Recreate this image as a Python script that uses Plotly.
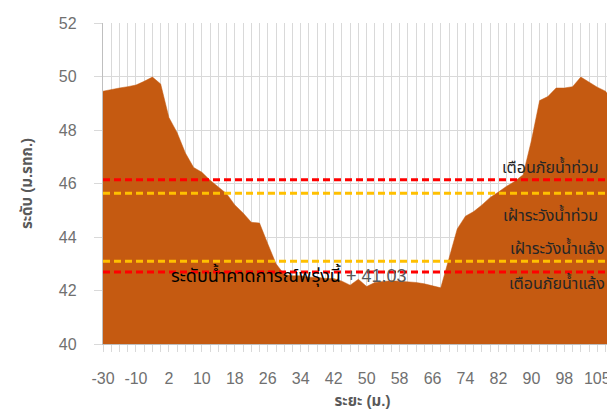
import plotly.graph_objects as go

# ---- data ----
distance = [-30, -25, -20, -15, -10, -7, -4, -1, 2, 4, 6, 8, 10, 12, 14, 16, 18, 20, 22, 24,
            26, 28, 30, 32, 34, 36, 38, 40, 42, 44, 46, 48, 50, 52, 54, 56, 58, 60, 62, 64,
            66, 68, 70, 72, 74, 76, 78, 80, 82, 84, 86, 88, 90, 92, 94, 96, 98, 100, 102, 104,
            105, 106, 108, 110]
elevation = [49.45, 49.52, 49.57, 49.62, 49.68, 49.82, 49.98, 49.72, 48.47, 47.90,
             47.14, 46.60, 46.42, 46.12, 45.88, 45.62, 45.20, 44.90, 44.55, 44.52,
             43.75, 43.00, 42.60, 42.55, 42.55, 42.50, 42.50, 42.45, 42.45, 42.35,
             42.20, 42.42, 42.15, 42.30, 42.34, 42.36, 42.35, 42.33, 42.30, 42.25,
             42.18, 42.10, 43.20, 44.30, 44.78, 44.95, 45.20, 45.48, 45.68, 45.90,
             46.08, 46.33, 47.60, 49.10, 49.25, 49.57, 49.57, 49.62, 49.98, 49.78,
             49.60, 49.45, 49.00, 48.82]
flood_warning = 46.14
flood_watch = 45.64
drought_watch = 43.09
drought_warning = 42.69
forecast = 41.03
y_ticks = [40, 42, 44, 46, 48, 50, 52]

label_flood_warning = "เตือนภัยน้ำท่วม"
label_flood_watch = "เฝ้าระวังน้ำท่วม"
label_drought_watch = "เฝ้าระวังน้ำแล้ง"
label_drought_warning = "เตือนภัยน้ำแล้ง"
label_forecast = "ระดับน้ำคาดการณ์พรุ่งนี้"

# ---- figure ----
idx = list(range(len(distance)))
FONT = "Tahoma, 'Liberation Sans', 'Noto Sans Thai', sans-serif"
GRID = "#d9d9d9"
TXT = "#707070"

fig = go.Figure()
fig.add_trace(go.Scatter(x=idx, y=elevation, mode="lines", fill="tozeroy",
                         fillcolor="#C55A11", line=dict(color="#C55A11", width=0.5),
                         hoverinfo="skip", showlegend=False))

for val, col in [(flood_warning, "#FF0000"), (flood_watch, "#FFC000"),
                 (drought_watch, "#FFC000"), (drought_warning, "#FF0000")]:
    fig.add_trace(go.Scatter(x=idx, y=[val] * len(idx), mode="lines",
                             line=dict(color=col, width=3, dash="7px,4px"),
                             hoverinfo="skip", showlegend=False))

n = len(idx) - 1
ann_font = dict(family=FONT, size=16, color="#262626")
fig.add_annotation(x=n * 0.863, y=flood_warning + 0.5, text=label_flood_warning,
                   showarrow=False, font=ann_font)
fig.add_annotation(x=n * 0.863, y=flood_watch - 0.78, text=label_flood_watch,
                   showarrow=False, font=ann_font)
fig.add_annotation(x=n * 0.875, y=drought_watch + 0.54, text=label_drought_watch,
                   showarrow=False, font=ann_font)
fig.add_annotation(x=n * 0.875, y=drought_warning - 0.37, text=label_drought_warning,
                   showarrow=False, font=ann_font)
fig.add_annotation(x=n * 0.128, y=drought_warning - 0.11, xanchor="left",
                   text=f"{label_forecast} <span style='color:#595959'>+ {forecast:.2f}</span>",
                   showarrow=False, font=dict(family=FONT, size=18, color="#000000"))

fig.update_layout(
    width=615, height=412,
    margin=dict(l=95, r=1, t=15, b=76),
    paper_bgcolor="white", plot_bgcolor="white",
    font=dict(family=FONT, color=TXT, size=16),
    showlegend=False,
)
fig.update_xaxes(
    range=[0, n],
    tickmode="array", tickvals=idx[::4], ticktext=[str(d) for d in distance[::4]],
    showgrid=True, gridcolor=GRID, gridwidth=1.3,
    ticks="outside", ticklen=7, tickcolor=GRID, tickwidth=1.3,
    minor=dict(dtick=1, tick0=0, showgrid=True, gridcolor=GRID, gridwidth=1.3,
               ticks="outside", ticklen=7, tickcolor=GRID, tickwidth=1.3),
    showline=True, linecolor="#bfbfbf", linewidth=1.3,
    zeroline=False, ticklabelstandoff=13,
    tickfont=dict(size=16, color=TXT, family=FONT),
    title=dict(text="<b>ระยะ (ม.)</b>", font=dict(size=15, color="#595959", family=FONT), standoff=9),
)
fig.update_yaxes(
    range=[40, 52], tickvals=y_ticks,
    showgrid=True, gridcolor=GRID, gridwidth=1.3,
    ticks="outside", ticklen=8, tickcolor=GRID, tickwidth=1.3,
    showline=True, linecolor="#bfbfbf", linewidth=1.3,
    zeroline=False, ticklabelstandoff=14,
    tickfont=dict(size=16, color=TXT, family=FONT),
    title=dict(text="<b>ระดับ (ม.รทก.)</b>", font=dict(size=15, color="#595959", family=FONT), standoff=22),
)

fig.write_html("out.html")
